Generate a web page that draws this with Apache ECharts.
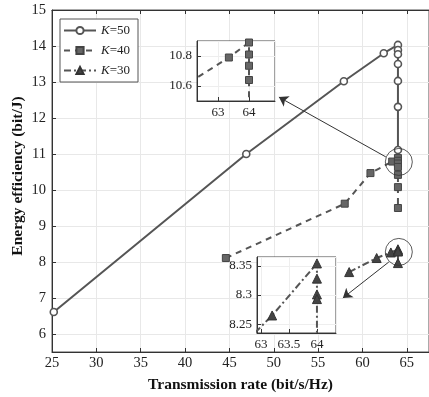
<!DOCTYPE html>
<html>
<head>
<meta charset="utf-8">
<script src="https://cdn.jsdelivr.net/npm/echarts@6/dist/echarts.min.js"></script>
<style>
  html, body { margin: 0; padding: 0; background: #fff; }
  #main { width: 429px; height: 397px; }
</style>
</head>
<body>
<div id="main"></div>
<script>
// data
const k50X = [25.2, 46.9, 57.9, 62.4, 64, 64, 64, 64, 64, 64, 64];
const k50Y = [6.61, 11.0, 13.02, 13.8, 14.03, 13.89, 13.77, 13.5, 13.03, 12.31, 11.11];
const k40X = [44.6, 58.0, 60.9, 63.35, 64, 64, 64, 64, 64, 64, 64];
const k40Y = [8.11, 9.62, 10.47, 10.79, 10.89, 10.81, 10.735, 10.64, 10.42, 10.08, 9.5];
const k30X = [58.5, 61.6, 63.2, 64, 64, 64, 64, 64];
const k30Y = [7.72, 8.11, 8.265, 8.354, 8.328, 8.301, 8.293, 7.97];
const names = ['K=50', 'K=40', 'K=30'];

// zoom marks (ellipses) and arrows, in main-axis units
const rings = [[64.1, 10.78], [64.1, 8.28]];
const arrows = [
    [[62.63, 10.92], [50.58, 12.58]],
    [[62.97, 8.0], [57.79, 7.0]]
];

const pair = (xs, ys) => xs.map((x, i) => [x, ys[i]]);

var myChart = echarts.init(document.getElementById('main'));
const serif = 'Liberation Serif, Times New Roman, serif';
const lineColor = '#555';
const gridLine = { show: true, lineStyle: { color: '#e8e8e8', width: 1 } };

// axis helper
const valAxis = (o) => Object.assign({
    type: 'value',
    scale: true,
    axisLine: { show: true, onZero: false, lineStyle: { color: '#333' } },
    axisTick: { show: true, inside: true, length: 4, lineStyle: { color: '#333' } },
    axisLabel: { color: '#222', fontFamily: serif, fontSize: 14, showMinLabel: false, showMaxLabel: false },
    splitLine: gridLine
}, o);

const mainLabel = (showMin, showMax, m) => ({ color: '#222', fontFamily: serif, fontSize: 14.5, margin: m, showMinLabel: showMin, showMaxLabel: showMax });
const insetLabel = (fmt) => ({ color: '#222', fontFamily: serif, fontSize: 13, margin: 5, showMinLabel: false, showMaxLabel: false, formatter: fmt });
const nameStyle = { fontFamily: serif, fontSize: 15.5, fontWeight: 'bold', color: '#111' };

const styles = [
    { symbol: 'circle', symbolSize: 7, line: { type: 'solid', width: 2 }, item: { color: '#fff', borderColor: lineColor, borderWidth: 1.6 } },
    { symbol: 'rect', symbolSize: 7, line: { type: [6, 5], width: 2 }, item: { color: '#666', borderColor: '#444', borderWidth: 1 } },
    { symbol: 'triangle', symbolSize: 9, line: { type: [7, 3, 2, 3], width: 2 }, item: { color: '#444', borderColor: '#333', borderWidth: 1 } }
];
const datas = [pair(k50X, k50Y), pair(k40X, k40Y), pair(k30X, k30Y)];

let series = [];
// main plot
datas.forEach((d, i) => {
    series.push({
        name: names[i], type: 'line', xAxisIndex: 0, yAxisIndex: 0,
        data: d, symbol: styles[i].symbol, symbolSize: styles[i].symbolSize,
        showAllSymbol: true, animation: false,
        lineStyle: Object.assign({ color: lineColor }, styles[i].line),
        itemStyle: styles[i].item, z: 3
    });
});
// insets: K=40 in grid 1, K=30 in grid 2
[[1, 1], [2, 2]].forEach(([i, g]) => {
    series.push({
        name: names[i], type: 'line', xAxisIndex: g + 1, yAxisIndex: g,
        data: datas[i], symbol: styles[i].symbol, symbolSize: styles[i].symbolSize,
        showAllSymbol: true, animation: false, clip: true,
        lineStyle: Object.assign({ color: lineColor }, styles[i].line),
        itemStyle: styles[i].item, z: 10
    });
});
// rings
series.push({
    type: 'scatter', xAxisIndex: 0, yAxisIndex: 0, data: rings,
    symbol: 'circle', symbolSize: 27, silent: true, animation: false,
    itemStyle: { color: 'rgba(0,0,0,0)', borderColor: '#333', borderWidth: 1 }, z: 4
});
// arrows
series.push({
    type: 'lines', coordinateSystem: 'cartesian2d', xAxisIndex: 0, yAxisIndex: 0,
    data: arrows.map(a => ({ coords: a })), symbol: ['none', 'arrow'], symbolSize: [6, 9],
    silent: true, animation: false,
    lineStyle: { color: '#333', width: 1, opacity: 1 }, z: 12
});

myChart.setOption({
    backgroundColor: '#fff',
    animation: false,
    grid: [
        { left: 52, right: 0, top: 10, bottom: 45, show: true, borderColor: '#555', borderWidth: 1, outerBoundsMode: 'none' },
        { left: 197, top: 41, width: 78, height: 60, show: true, backgroundColor: '#fff', borderColor: '#444', borderWidth: 1, z: 8, outerBoundsMode: 'none' },
        { left: 257, top: 257, width: 79, height: 76, show: true, backgroundColor: '#fff', borderColor: '#444', borderWidth: 1, z: 8, outerBoundsMode: 'none' }
    ],
    // y轴标题
    graphic: [{
        type: 'text', x: 18, y: 176, rotation: Math.PI / 2,
        style: {
            text: 'Energy efficiency (bit/J)', align: 'center', verticalAlign: 'middle',
            font: 'bold 15.5px ' + serif, fill: '#111'
        }
    }],
    legend: { //图例
        data: names, orient: 'vertical', left: 60, top: 19,
        itemWidth: 32, itemHeight: 9, itemGap: 7,
        padding: [5, 8, 5, 3],
        borderColor: '#555', borderWidth: 1, backgroundColor: '#fff',
        formatter: (n) => '{i|K}' + n.slice(1),
        textStyle: { fontFamily: serif, fontSize: 13, color: '#222', rich: { i: { fontStyle: 'italic', fontFamily: serif, fontSize: 13 } } }
    },
    xAxis: [
        valAxis({
            gridIndex: 0, min: 25, max: 67.5, splitNumber: 8,
            axisLabel: mainLabel(true, false, 4),
            name: 'Transmission rate (bit/s/Hz)', nameLocation: 'middle', nameGap: 25,
            nameTextStyle: nameStyle
        }),
        valAxis({
            gridIndex: 0, min: 25, max: 67.5, splitNumber: 8, position: 'top',
            axisLabel: { show: false }, splitLine: { show: false }
        }),
        valAxis({
            gridIndex: 1, min: 62.32, max: 64.84, splitNumber: 2,
            axisLabel: insetLabel((v) => Number.isInteger(v) ? v : ''),
            splitLine: { show: true, lineStyle: { color: '#eee' } }, z: 9
        }),
        valAxis({
            gridIndex: 2, min: 62.93, max: 64.34, splitNumber: 3,
            axisLabel: insetLabel(null),
            splitLine: { show: true, lineStyle: { color: '#eee' } }, z: 9
        })
    ],
    yAxis: [
        valAxis({
            gridIndex: 0, min: 5.5, max: 15, splitNumber: 10,
            axisLabel: mainLabel(false, true, 6)
        }),
        valAxis({
            gridIndex: 1, min: 10.5, max: 10.9, splitNumber: 2,
            axisLabel: insetLabel(null),
            splitLine: { show: true, lineStyle: { color: '#eee' } }, z: 9
        }),
        valAxis({
            gridIndex: 2, min: 8.235, max: 8.365, splitNumber: 3,
            axisLabel: insetLabel(null),
            splitLine: { show: true, lineStyle: { color: '#eee' } }, z: 9
        })
    ],
    series: series
});
</script>
</body>
</html>
